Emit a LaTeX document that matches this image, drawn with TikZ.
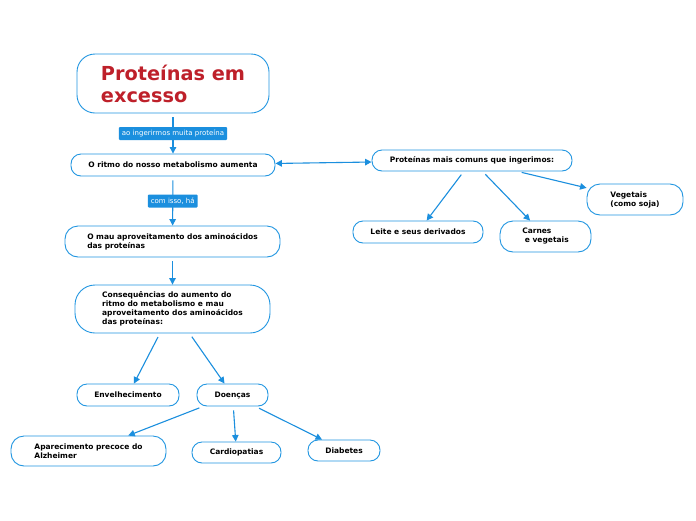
\documentclass[tikz,border=0pt]{standalone}
\usepackage{fontspec}
\setmainfont{DejaVu Sans}
\usetikzlibrary{arrows.meta}
\definecolor{mapblue}{RGB}{33,150,225}
\definecolor{linkblue}{RGB}{27,143,222}
\definecolor{titlered}{RGB}{190,32,42}
\tikzset{idea/.style={draw=mapblue,line width=0.9pt,rounded corners=10pt,
           align=left,inner sep=0pt,font=\fontsize{7.5}{9}\selectfont\bfseries},
         maintopic/.style={idea,rounded corners=18pt,text=titlered,
           font=\fontsize{19.3}{22}\selectfont\bfseries},
         linklabel/.style={fill=linkblue,text=white,rounded corners=1pt,
           inner xsep=3pt,inner ysep=2pt,minimum height=13pt,
           font=\fontsize{7}{8}\selectfont},
         link/.style={draw=linkblue,line width=1.1pt,shorten <=4pt,
           -{Triangle[length=6.5pt,width=6.5pt]}}}
\begin{document}
\begin{tikzpicture}[x=1pt,y=-1pt]
  \useasboundingbox[fill=white] (0,0) rectangle (696,520);
  % left column
  \node[maintopic,minimum width=192pt,minimum height=59pt] (excesso) at (173,83.5)
      {Proteínas em\\excesso};
  \node[idea,minimum width=204pt,minimum height=22pt] (ritmo) at (173,165)
      {O ritmo do nosso metabolismo aumenta};
  \node[idea,rounded corners=13pt,minimum width=215pt,minimum height=31pt] (mau) at (172.5,241.5)
      {O mau aproveitamento dos aminoácidos\\das proteínas};
  \node[idea,rounded corners=20pt,minimum width=195pt,minimum height=48pt] (consequencias) at (172.5,309)
      {Consequências do aumento do\\ritmo do metabolismo e mau\\aproveitamento dos aminoácidos\\das proteínas:};
  \node[idea,minimum width=102pt,minimum height=22pt] (envelhecimento) at (128,395)
      {Envelhecimento};
  \node[idea,minimum width=71pt,minimum height=22pt] (doencas) at (232.5,395)
      {Doenças};
  \node[idea,rounded corners=13pt,minimum width=155pt,minimum height=30pt] (alzheimer) at (88.5,451)
      {Aparecimento precoce do\\Alzheimer};
  \node[idea,minimum width=89pt,minimum height=21pt] (cardiopatias) at (236.5,452.5)
      {Cardiopatias};
  \node[idea,minimum width=72pt,minimum height=21pt] (diabetes) at (344,450.5)
      {Diabetes};
  % right side
  \node[idea,minimum width=200pt,minimum height=21pt] (proteinas) at (472,160.5)
      {Proteínas mais comuns que ingerimos:};
  \node[idea,minimum width=130pt,minimum height=22pt] (leite) at (418,232)
      {Leite e seus derivados};
  \node[idea,rounded corners=13pt,minimum width=91pt,minimum height=31pt] (carnes) at (545.5,236.5)
      {Carnes\\~e vegetais};
  \node[idea,rounded corners=13pt,minimum width=96pt,minimum height=31pt] (vegetais) at (635,199.5)
      {Vegetais\\(como soja)};

  % connectors
  \draw[link] (excesso) -- node[linklabel] {ao ingerirmos muita proteína} (ritmo);
  \draw[link] (ritmo) -- node[linklabel] {com isso, há} (mau);
  \draw[link] (mau) -- (consequencias);
  \draw[link] (consequencias) -- (envelhecimento);
  \draw[link] (consequencias) -- (doencas);
  \draw[link] (doencas) -- (alzheimer);
  \draw[link] (doencas) -- (cardiopatias);
  \draw[link] (doencas) -- (diabetes);
  \draw[link,shorten <=0pt,{Triangle[length=6.5pt,width=6.5pt]}-{Triangle[length=6.5pt,width=6.5pt]}]
      (ritmo) -- (proteinas);
  \draw[link] (proteinas) -- (leite);
  \draw[link] (proteinas) -- (carnes);
  \draw[link] (proteinas) -- (vegetais);
\end{tikzpicture}
\end{document}
